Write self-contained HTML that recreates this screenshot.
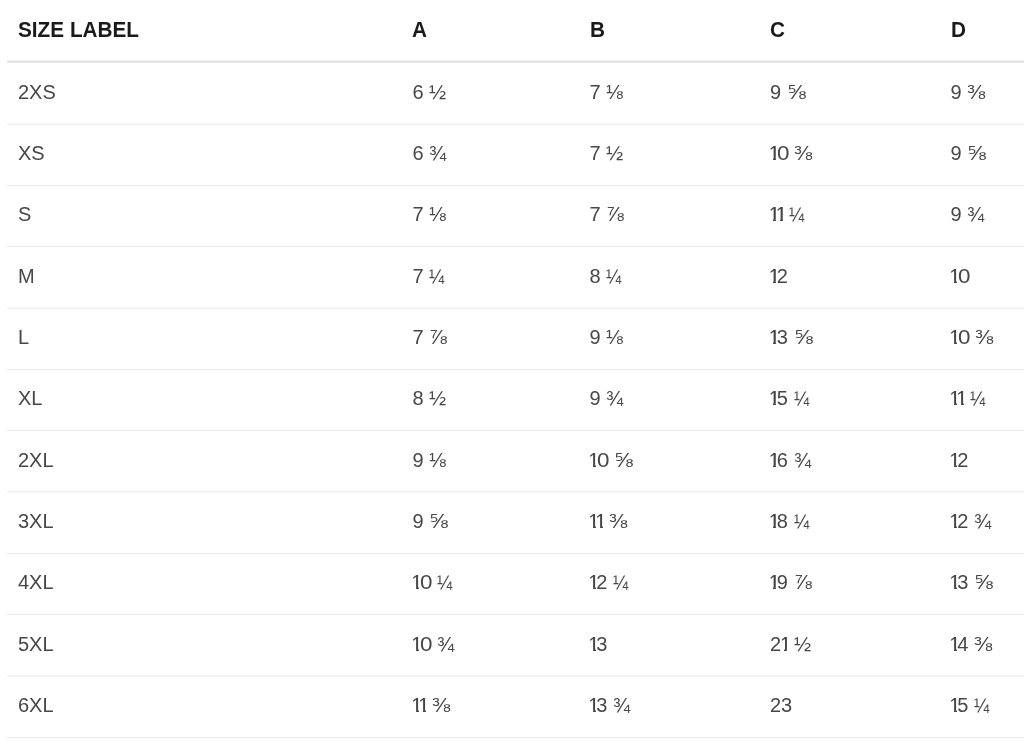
<!DOCTYPE html><html><head><meta charset="utf-8"><style>
html,body{margin:0;padding:0;background:#fff;}
body{width:1024px;height:754px;overflow:hidden;position:relative;font-family:"Liberation Sans",Arial,sans-serif;}
.t{position:absolute;white-space:nowrap;line-height:0;height:0;}
.h{font-weight:bold;font-size:21.5px;color:#1a1a1a;transform:scaleX(0.965);transform-origin:0 0;}
.d{font-size:20px;color:#474747;}
.fr{display:inline-block;transform-origin:0 50%;}
.z{display:inline-block;transform-origin:0 50%;transform:scaleX(1.12);margin-left:0.2px;margin-right:0.75px;}
.o{margin-left:-1.2px;margin-right:-3.1px;}
@supports ((-webkit-background-clip:text) or (background-clip:text)){.o{color:transparent;background:linear-gradient(#474747,#474747) 0 0/100% 16.4px no-repeat,linear-gradient(#474747,#474747) 4.45px 0/2.95px 100% no-repeat;-webkit-background-clip:text;background-clip:text;}}
.ln{position:absolute;left:7px;right:0;height:1px;background:#ebebeb;}
</style></head><body>
<div class="ln" style="top:60px;background:#f2f2f2"></div>
<div class="ln" style="top:61px;background:#dfdfdf"></div>
<div class="ln" style="top:62px;background:#eaeaea"></div>
<div class="ln" style="top:123px;background:#f7f7f7"></div>
<div class="ln" style="top:124px;background:#efefef"></div>
<div class="ln" style="top:185px;background:#ececec"></div>
<div class="ln" style="top:246px;background:#ececec"></div>
<div class="ln" style="top:307px;background:#f7f7f7"></div>
<div class="ln" style="top:308px;background:#efefef"></div>
<div class="ln" style="top:369px;background:#ececec"></div>
<div class="ln" style="top:430px;background:#ececec"></div>
<div class="ln" style="top:491px;background:#efefef"></div>
<div class="ln" style="top:492px;background:#f7f7f7"></div>
<div class="ln" style="top:553px;background:#ececec"></div>
<div class="ln" style="top:614px;background:#ececec"></div>
<div class="ln" style="top:675px;background:#f3f3f3"></div>
<div class="ln" style="top:676px;background:#f3f3f3"></div>
<div class="ln" style="top:737px;background:#ececec"></div>
<div class="t h" style="left:18px;top:29.7px">SIZE LABEL</div>
<div class="t h" style="left:411.7px;top:29.7px">A</div>
<div class="t h" style="left:590.3px;top:29.7px">B</div>
<div class="t h" style="left:770px;top:29.7px">C</div>
<div class="t h" style="left:950.5px;top:29.7px">D</div>
<div class="t d" style="left:18px;top:91.90px">2XS</div>
<div class="t d" style="left:412.5px;top:91.90px">6 <span class="fr" style="transform:scaleX(1.033)">½</span></div>
<div class="t d" style="left:589.5px;top:91.90px">7 <span class="fr" style="transform:scaleX(1.01)">⅛</span></div>
<div class="t d" style="left:770px;top:91.90px">9 <span class="fr" style="transform:scaleX(1.13)">⅝</span></div>
<div class="t d" style="left:950.5px;top:91.90px">9 <span class="fr" style="transform:scaleX(1.09)">⅜</span></div>
<div class="t d" style="left:18px;top:152.90px">XS</div>
<div class="t d" style="left:412.5px;top:152.90px">6 <span class="fr" style="transform:scaleX(1.03)">¾</span></div>
<div class="t d" style="left:589.5px;top:152.90px">7 <span class="fr" style="transform:scaleX(1.033)">½</span></div>
<div class="t d" style="left:770px;top:152.90px"><span class="o">1</span><span class="z">0</span> <span class="fr" style="transform:scaleX(1.09)">⅜</span></div>
<div class="t d" style="left:950.5px;top:152.90px">9 <span class="fr" style="transform:scaleX(1.13)">⅝</span></div>
<div class="t d" style="left:18px;top:213.90px">S</div>
<div class="t d" style="left:412.5px;top:213.90px">7 <span class="fr" style="transform:scaleX(1.01)">⅛</span></div>
<div class="t d" style="left:589.5px;top:213.90px">7 <span class="fr" style="transform:scaleX(1.07)">⅞</span></div>
<div class="t d" style="left:770px;top:213.90px"><span class="o">1</span><span class="o">1</span> <span class="fr" style="transform:scaleX(0.91)">¼</span></div>
<div class="t d" style="left:950.5px;top:213.90px">9 <span class="fr" style="transform:scaleX(1.03)">¾</span></div>
<div class="t d" style="left:18px;top:275.90px">M</div>
<div class="t d" style="left:412.5px;top:275.90px">7 <span class="fr" style="transform:scaleX(0.91)">¼</span></div>
<div class="t d" style="left:589.5px;top:275.90px">8 <span class="fr" style="transform:scaleX(0.91)">¼</span></div>
<div class="t d" style="left:770px;top:275.90px"><span class="o">1</span>2</div>
<div class="t d" style="left:950.5px;top:275.90px"><span class="o">1</span><span class="z">0</span></div>
<div class="t d" style="left:18px;top:336.90px">L</div>
<div class="t d" style="left:412.5px;top:336.90px">7 <span class="fr" style="transform:scaleX(1.07)">⅞</span></div>
<div class="t d" style="left:589.5px;top:336.90px">9 <span class="fr" style="transform:scaleX(1.01)">⅛</span></div>
<div class="t d" style="left:770px;top:336.90px"><span class="o">1</span>3 <span class="fr" style="transform:scaleX(1.13)">⅝</span></div>
<div class="t d" style="left:950.5px;top:336.90px"><span class="o">1</span><span class="z">0</span> <span class="fr" style="transform:scaleX(1.09)">⅜</span></div>
<div class="t d" style="left:18px;top:397.90px">XL</div>
<div class="t d" style="left:412.5px;top:397.90px">8 <span class="fr" style="transform:scaleX(1.033)">½</span></div>
<div class="t d" style="left:589.5px;top:397.90px">9 <span class="fr" style="transform:scaleX(1.03)">¾</span></div>
<div class="t d" style="left:770px;top:397.90px"><span class="o">1</span>5 <span class="fr" style="transform:scaleX(0.91)">¼</span></div>
<div class="t d" style="left:950.5px;top:397.90px"><span class="o">1</span><span class="o">1</span> <span class="fr" style="transform:scaleX(0.91)">¼</span></div>
<div class="t d" style="left:18px;top:459.90px">2XL</div>
<div class="t d" style="left:412.5px;top:459.90px">9 <span class="fr" style="transform:scaleX(1.01)">⅛</span></div>
<div class="t d" style="left:589.5px;top:459.90px"><span class="o">1</span><span class="z">0</span> <span class="fr" style="transform:scaleX(1.13)">⅝</span></div>
<div class="t d" style="left:770px;top:459.90px"><span class="o">1</span>6 <span class="fr" style="transform:scaleX(1.03)">¾</span></div>
<div class="t d" style="left:950.5px;top:459.90px"><span class="o">1</span>2</div>
<div class="t d" style="left:18px;top:520.90px">3XL</div>
<div class="t d" style="left:412.5px;top:520.90px">9 <span class="fr" style="transform:scaleX(1.13)">⅝</span></div>
<div class="t d" style="left:589.5px;top:520.90px"><span class="o">1</span><span class="o">1</span> <span class="fr" style="transform:scaleX(1.09)">⅜</span></div>
<div class="t d" style="left:770px;top:520.90px"><span class="o">1</span>8 <span class="fr" style="transform:scaleX(0.91)">¼</span></div>
<div class="t d" style="left:950.5px;top:520.90px"><span class="o">1</span>2 <span class="fr" style="transform:scaleX(1.03)">¾</span></div>
<div class="t d" style="left:18px;top:581.90px">4XL</div>
<div class="t d" style="left:412.5px;top:581.90px"><span class="o">1</span><span class="z">0</span> <span class="fr" style="transform:scaleX(0.91)">¼</span></div>
<div class="t d" style="left:589.5px;top:581.90px"><span class="o">1</span>2 <span class="fr" style="transform:scaleX(0.91)">¼</span></div>
<div class="t d" style="left:770px;top:581.90px"><span class="o">1</span>9 <span class="fr" style="transform:scaleX(1.07)">⅞</span></div>
<div class="t d" style="left:950.5px;top:581.90px"><span class="o">1</span>3 <span class="fr" style="transform:scaleX(1.13)">⅝</span></div>
<div class="t d" style="left:18px;top:643.90px">5XL</div>
<div class="t d" style="left:412.5px;top:643.90px"><span class="o">1</span><span class="z">0</span> <span class="fr" style="transform:scaleX(1.03)">¾</span></div>
<div class="t d" style="left:589.5px;top:643.90px"><span class="o">1</span>3</div>
<div class="t d" style="left:770px;top:643.90px">2<span class="o">1</span> <span class="fr" style="transform:scaleX(1.033)">½</span></div>
<div class="t d" style="left:950.5px;top:643.90px"><span class="o">1</span>4 <span class="fr" style="transform:scaleX(1.09)">⅜</span></div>
<div class="t d" style="left:18px;top:704.90px">6XL</div>
<div class="t d" style="left:412.5px;top:704.90px"><span class="o">1</span><span class="o">1</span> <span class="fr" style="transform:scaleX(1.09)">⅜</span></div>
<div class="t d" style="left:589.5px;top:704.90px"><span class="o">1</span>3 <span class="fr" style="transform:scaleX(1.03)">¾</span></div>
<div class="t d" style="left:770px;top:704.90px">23</div>
<div class="t d" style="left:950.5px;top:704.90px"><span class="o">1</span>5 <span class="fr" style="transform:scaleX(0.91)">¼</span></div>
</body></html>
